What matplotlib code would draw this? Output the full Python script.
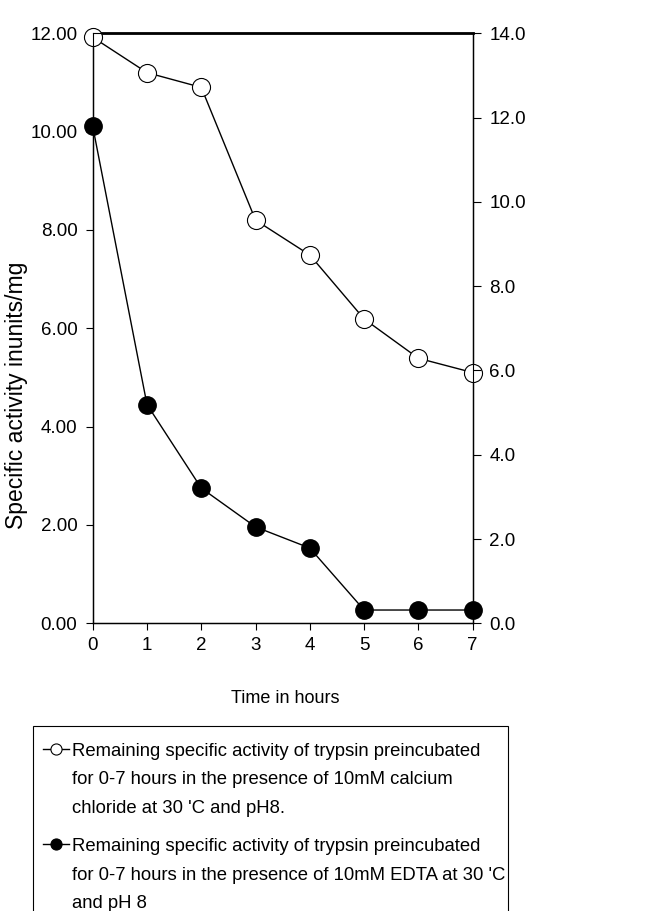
import matplotlib
matplotlib.use("Agg")
import matplotlib.pyplot as plt
from matplotlib.lines import Line2D
from matplotlib.patches import Rectangle
from matplotlib.ticker import FormatStrFormatter

plt.rcParams["font.family"] = ["Liberation Sans", "DejaVu Sans"]

hours = [0, 1, 2, 3, 4, 5, 6, 7]
calcium = [11.92, 11.2, 10.9, 8.2, 7.49, 6.19, 5.39, 5.1]
edta = [10.11, 4.45, 2.75, 1.96, 1.53, 0.27, 0.27, 0.27]

label_calcium = ["Remaining specific activity of trypsin preincubated",
                 "for 0-7 hours in the presence of 10mM calcium",
                 "chloride at 30 'C and pH8."]
label_edta = ["Remaining specific activity of trypsin preincubated",
              "for 0-7 hours in the presence of 10mM EDTA at 30 'C",
              "and pH 8"]

W, H = 654, 911
fig = plt.figure(figsize=(W / 100, H / 100), dpi=100)
ax = fig.add_axes([92.7 / W, 1 - 623.3 / H, 380 / W, 590 / H])

ax.plot(hours, calcium, color="black", lw=1.0, marker="o", ms=13,
        mfc="white", mec="black", mew=0.8, clip_on=False, zorder=3)
ax.plot(hours, edta, color="black", lw=1.0, marker="o", ms=12.5,
        mfc="black", mec="black", clip_on=False, zorder=3)

ax.set_xlim(0, 7)
ax.set_ylim(0, 12)
ax.set_xticks(hours)
ax.set_yticks([0, 2, 4, 6, 8, 10, 12])
ax.yaxis.set_major_formatter(FormatStrFormatter("%.2f"))
ax.tick_params(direction="out", length=5, width=0.8, labelsize=13.5)
ax.tick_params(axis="y", pad=6)
ax.tick_params(axis="x", pad=5)
for sp in ax.spines.values():
    sp.set_linewidth(1.0)
ax.spines["top"].set_linewidth(2.0)

ax2 = ax.twinx()
ax2.set_ylim(0, 14)
ax2.set_yticks([0, 2, 4, 6, 8, 10, 12, 14])
ax2.yaxis.set_major_formatter(FormatStrFormatter("%.1f"))
ax2.tick_params(direction="out", length=6, width=0.8, labelsize=13.5, pad=6)

ax.set_xlabel("Time in hours", fontsize=13)
ax.xaxis.set_label_coords(0.508, (623.3 - 690) / 590)
ax.set_ylabel("Specific activity inunits/mg", fontsize=16.5)
ax.yaxis.set_label_coords((28 - 92.7) / 380, (623.3 - 395) / 590)

# legend box drawn by hand so the marker sits on the first text line
fig.add_artist(Rectangle((33 / W, -0.02), 475 / W, 0.02 + 1 - 726 / H,
                         transform=fig.transFigure, fill=False,
                         edgecolor="black", lw=0.8))
for first_px, lines, face in [(756, label_calcium, "white"), (851, label_edta, "black")]:
    y = 1 - (first_px - 7) / H
    fig.add_artist(Line2D([43 / W, 69 / W], [y, y], transform=fig.transFigure,
                          color="black", lw=1.0))
    fig.add_artist(Line2D([56 / W], [y], transform=fig.transFigure,
                          marker="o", ms=8, mfc=face, mec="black", mew=0.8))
    for i, line in enumerate(lines):
        fig.text(72 / W, 1 - (first_px + 28.5 * i) / H, line,
                 fontsize=13.3, va="baseline", ha="left")

fig.savefig("out.png", dpi=100)
